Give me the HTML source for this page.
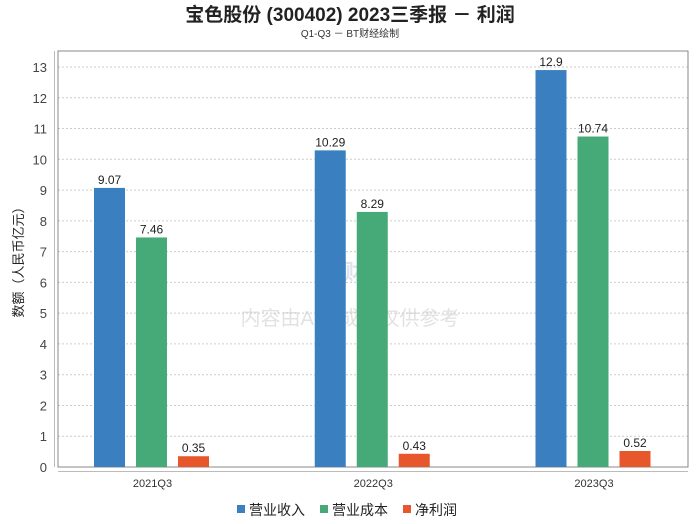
<!DOCTYPE html>
<html><head><meta charset="utf-8"><style>
body{margin:0;background:#fff;}
svg{display:block;font-family:"Liberation Sans","Noto Sans CJK SC",sans-serif;}
</style></head><body>
<svg id="c" width="700" height="524">
<text x="350" y="21" text-anchor="middle" font-size="19" font-weight="bold" fill="#222">宝色股份 (300402) 2023三季报 － 利润</text>
<text x="350" y="37" text-anchor="middle" font-size="10" fill="#333">Q1-Q3 － BT财经绘制</text>
<text x="350" y="280" text-anchor="middle" font-size="22" font-weight="bold" fill="#dde3ea">BT财经</text>
<text x="350" y="325" text-anchor="middle" font-size="20" fill="#e2e2e2">内容由AI生成，仅供参考</text>
<g id="plot"></g>
</svg>
<script>
const categories=["2021Q3","2022Q3","2023Q3"];
const seriesNames=["营业收入","营业成本","净利润"];
const revenue=[9.07,10.29,12.9];
const cost=[7.46,8.29,10.74];
const profit=[0.35,0.43,0.52];
const yTicks=[0,1,2,3,4,5,6,7,8,9,10,11,12,13];
const colors=["#3a80c1","#45aa78","#e8562b"];
const NS="http://www.w3.org/2000/svg";
const g=document.getElementById('plot');
const L=58,R=688,T=51,B=467,y0=467,pxu=30.77;
const y=v=>y0-v*pxu;
const cx=i=>152.5+i*220.75;
function mk(t,a,txt){const e=document.createElementNS(NS,t);for(const k in a)e.setAttribute(k,a[k]);if(txt!=null)e.textContent=txt;g.appendChild(e);return e;}
yTicks.forEach(v=>{
 if(v>0){const l=mk('line',{x1:L,x2:R,y1:y(v),y2:y(v),stroke:'#ccc','stroke-dasharray':'2,2'});
 
 }
 const t=mk('text',{x:47,y:y(v)+5,'text-anchor':'end','font-size':13,fill:'#444'},v);
 
 
});
let f=mk('rect',{x:L,y:T,width:R-L,height:B-T,fill:'none',stroke:'#888'});


let ya=mk('line',{x1:54.5,x2:54.5,y1:T,y2:B,stroke:'#bbb'});


let xa=mk('line',{x1:L,x2:R,y1:471.5,y2:471.5,stroke:'#bbb'});


const yt=mk('text',{x:0,y:0,'text-anchor':'middle','font-size':13,fill:'#222',transform:'translate(23,259) rotate(-90)'},'数额（人民币亿元）');


const series=[revenue,cost,profit];
categories.forEach((c,i)=>{
 const t=mk('text',{x:cx(i),y:487,'text-anchor':'middle','font-size':11,fill:'#333'},c);
 
 
 series.forEach((s,j)=>{
  const bx=cx(i)-58.5+j*42;
  const r=mk('rect',{x:bx,y:y(s[i]),width:31,height:y0-y(s[i]),fill:colors[j]});
  
  
  const lb=mk('text',{x:bx+15.5,y:y(s[i])-4,'text-anchor':'middle','font-size':12,fill:'#222'},s[i]);
  
  
 });
});
const lx=[237,320,403];
seriesNames.forEach((n,j)=>{
 const r=mk('rect',{x:lx[j],y:505,width:8,height:8,fill:colors[j]});
 
 
 const t=mk('text',{x:lx[j]+12,y:515,'font-size':14,fill:'#222'},n);
 
 
});
</script>
</body></html>
